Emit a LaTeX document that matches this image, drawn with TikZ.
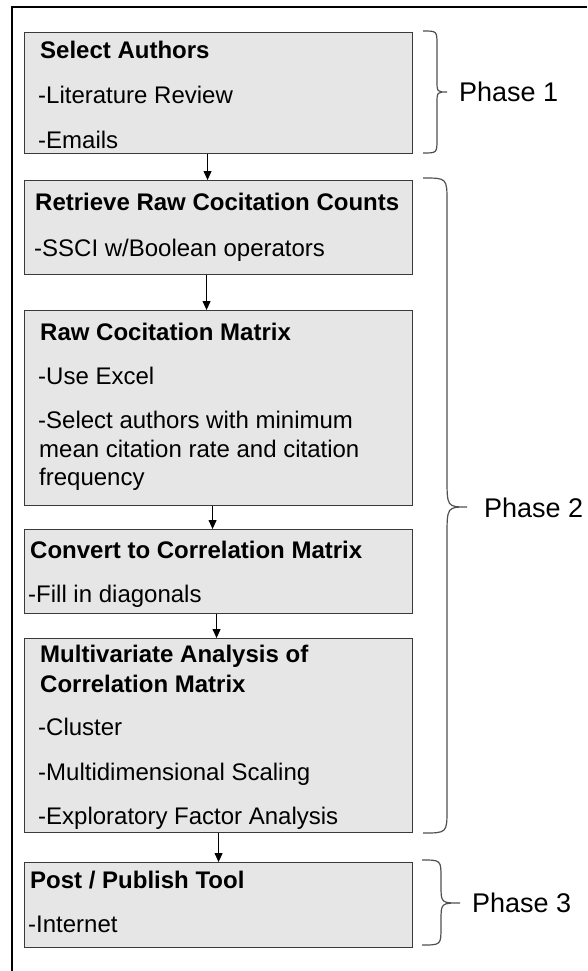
\documentclass[tikz,border=0pt]{standalone}
\usepackage{fontspec}
\setmainfont{Liberation Sans}
\usetikzlibrary{arrows.meta}

\definecolor{boxfill}{HTML}{E6E6E6}
\definecolor{boxline}{HTML}{3A3A3A}
\definecolor{bracecol}{HTML}{505050}

% right-hand curly brace: ends at x0, spine at xs, tip at (xt,ym)
% #1 x0, #2 xs, #3 xt, #4 ytop, #5 ym, #6 ybot, #7 end radius, #8 middle radius
\newcommand\drawphasebrace[8]{%
  \draw[phasebrace] (#1,#4) .. controls (#2,#4) .. ({#2},{#4+#7})
    -- ({#2},{#5-#8}) .. controls (#2,#5) .. (#3,#5)
    .. controls (#2,#5) .. ({#2},{#5+#8})
    -- ({#2},{#6-#7}) .. controls (#2,#6) .. (#1,#6);}

\begin{document}
\begin{tikzpicture}[x=1pt,y=-1pt,
  box/.style={draw=boxline, fill=boxfill, line width=1.1pt, rectangle,
    inner sep=0pt, anchor=north west, minimum width=388pt},
  head/.style={font=\fontsize{24}{28}\selectfont\bfseries, anchor=base west, inner sep=0pt},
  item/.style={font=\fontsize{24}{28}\selectfont, anchor=base west, inner sep=0pt},
  flow/.style={-{Triangle[length=9pt,width=8pt]}, line width=1pt},
  phasebrace/.style={draw=bracecol, line width=1.2pt},
  phase/.style={font=\fontsize{27}{32}\selectfont, anchor=base west, inner sep=0pt}]

\useasboundingbox (0,0) rectangle (587,971);
\fill[white] (0,0) rectangle (587,971);

% outer frame (left and top edges visible)
\draw[line width=2.3pt] (12,971) -- (12,7) -- (587,7);

% process boxes
\node[box, minimum height=121pt] (b1) at (24,32) {};
\node[box, minimum height=94pt]  (b2) at (24,180) {};
\node[box, minimum height=195pt] (b3) at (24,310) {};
\node[box, minimum height=84pt]  (b4) at (24,529) {};
\node[box, minimum height=194pt] (b5) at (24,638) {};
\node[box, minimum height=85pt]  (b6) at (24,862) {};

% box texts
\node[head] (t1a) at (40,59)  {Select Authors};
\node[item] (t1b) at (38,104) {-Literature Review};
\node[item] (t1c) at (38,148) {-Emails};

\node[head] (t2a) at (35,210) {Retrieve Raw Cocitation Counts};
\node[item] (t2b) at (34,256) {-SSCI w/Boolean operators};

\node[head] (t3a) at (40,340) {Raw Cocitation Matrix};
\node[item] (t3b) at (38,384) {-Use Excel};
\node[item] (t3c) at (38,428) {-Select authors with minimum};
\node[item] (t3d) at (39,457) {mean citation rate and citation};
\node[item] (t3e) at (39,485) {frequency};

\node[head] (t4a) at (30,558) {Convert to Correlation Matrix};
\node[item] (t4b) at (28,602) {-Fill in diagonals};

\node[head] (t5a) at (40,662) {Multivariate Analysis of};
\node[head] (t5b) at (40,692) {Correlation Matrix};
\node[item] (t5c) at (38,735) {-Cluster};
\node[item] (t5d) at (38,780) {-Multidimensional Scaling};
\node[item] (t5e) at (38,824) {-Exploratory Factor Analysis};

\node[head] (t6a) at (30,888) {Post / Publish Tool};
\node[item] (t6b) at (28,932) {-Internet};

% flow arrows
\draw[flow] ([xshift=-11pt]b1.south) -- ([xshift=-11pt]b2.north);
\draw[flow] ([xshift=-12pt]b2.south) -- ([xshift=-12pt]b3.north);
\draw[flow] ([xshift=-6pt]b3.south)  -- ([xshift=-6pt]b4.north);
\draw[flow] ([xshift=-2pt]b4.south)  -- ([xshift=-2pt]b5.north);
\draw[flow] (b5.south) -- (b6.north);

% phase braces and labels
\drawphasebrace{423}{437}{447}{31}{92}{153}{14}{12}
\drawphasebrace{423}{447}{467}{178}{507}{833}{24}{30}
\drawphasebrace{422}{441}{460}{860}{903}{945}{18}{18}

\node[phase] (p1) at (459,101.5) {Phase 1};
\node[phase] (p2) at (484,517.5) {Phase 2};
\node[phase] (p3) at (472,912.5) {Phase 3};
\end{tikzpicture}
\end{document}
